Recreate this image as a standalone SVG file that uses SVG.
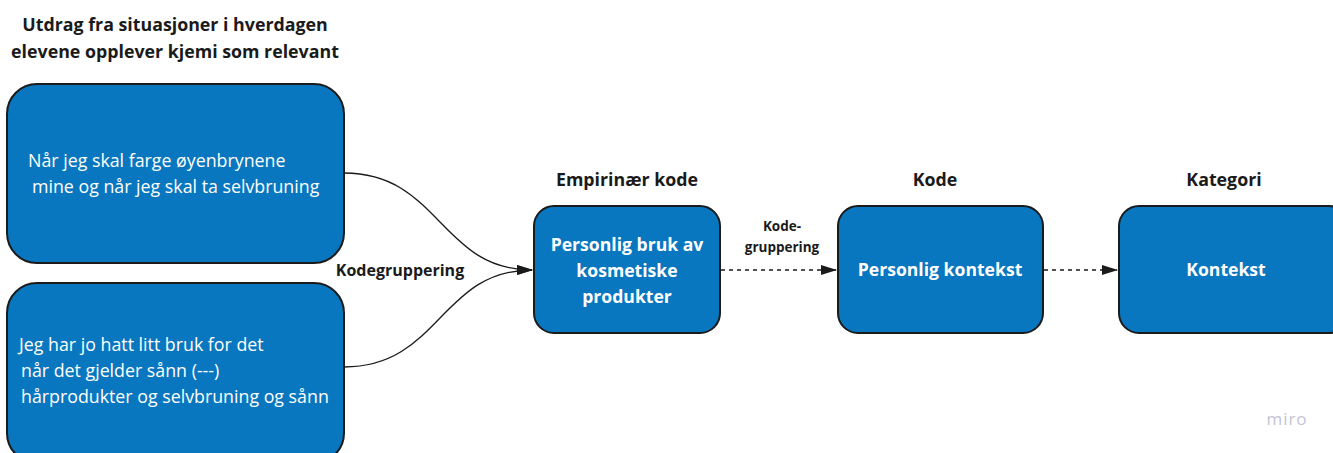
<svg xmlns="http://www.w3.org/2000/svg" width="1333" height="453" viewBox="0 0 1333 453">
<defs>
<style>
.box{fill:#0877bf;stroke:#1b1b1b;stroke-width:2}
.hd{font-family:"Open Sans","Liberation Sans",sans-serif;font-weight:bold;font-size:17.8px;fill:#1a1a1a;text-anchor:middle}
.tx{font-family:"Open Sans","Liberation Sans",sans-serif;font-size:17.8px;fill:#ffffff}
.bt{font-family:"Open Sans","Liberation Sans",sans-serif;font-weight:bold;font-size:17.6px;fill:#ffffff;text-anchor:middle}
.lb{font-family:"Open Sans","Liberation Sans",sans-serif;font-weight:bold;font-size:16px;fill:#1a1a1a;text-anchor:middle}
.ln{fill:none;stroke:#1a1a1a;stroke-width:1.3}
.dash{stroke-dasharray:4 4}
</style>
<marker id="ah" markerWidth="16" markerHeight="10" refX="15" refY="5" orient="auto" markerUnits="userSpaceOnUse">
<path d="M0,0 L16,5 L0,10 Z" fill="#1a1a1a"/>
</marker>
</defs>
<rect width="1333" height="453" fill="#ffffff"/>
<g id="header-left">
<text class="hd" x="175" y="31">Utdrag fra situasjoner i hverdagen</text>
<text class="hd" x="175" y="58">elevene opplever kjemi som relevant</text>
</g>
<g id="connectors">
<path class="ln" d="M344,173 C440,173 440,270 532,270" marker-end="url(#ah)"/>
<path class="ln" d="M344,367 C440,367 440,270 532,270" marker-end="url(#ah)"/>
<path class="ln dash" d="M721,270 L836,270" marker-end="url(#ah)"/>
<path class="ln dash" d="M1044,270 L1117,270" marker-end="url(#ah)"/>
<text class="lb" x="400" y="276">Kodegruppering</text>
<text class="lb" x="782" y="231" style="font-size:13.5px">Kode-</text>
<text class="lb" x="782" y="252" style="font-size:13.5px">gruppering</text>
</g>
<g id="node-quote1">
<rect class="box" x="7" y="84" width="337" height="179" rx="30"/>
<text class="tx" x="28" y="167">Når jeg skal farge øyenbrynene</text>
<text class="tx" x="32" y="193">mine og når jeg skal ta selvbruning</text>
</g>
<g id="node-quote2">
<rect class="box" x="7" y="283" width="337" height="180" rx="30"/>
<text class="tx" x="19" y="351">Jeg har jo hatt litt bruk for det</text>
<text class="tx" x="21" y="377">når det gjelder sånn (---)</text>
<text class="tx" x="21" y="403">hårprodukter og selvbruning og sånn</text>
</g>
<g id="node-empirical">
<text class="hd" x="627" y="186">Empirinær kode</text>
<rect class="box" x="534" y="206" width="186" height="127" rx="20"/>
<text class="bt" x="627" y="251">Personlig bruk av</text>
<text class="bt" x="627" y="277">kosmetiske</text>
<text class="bt" x="627" y="303">produkter</text>
</g>
<g id="node-code">
<text class="hd" x="935" y="186">Kode</text>
<rect class="box" x="838" y="206" width="205" height="127" rx="20"/>
<text class="bt" x="940" y="276">Personlig kontekst</text>
</g>
<g id="node-category">
<text class="hd" x="1224" y="186">Kategori</text>
<rect class="box" x="1119" y="206" width="230" height="127" rx="20"/>
<text class="bt" x="1226" y="276">Kontekst</text>
</g>
<text x="1287" y="425" style="font-family:'Open Sans','Liberation Sans',sans-serif;font-size:17px;fill:#c4c4d4;text-anchor:middle;letter-spacing:1px">miro</text>
</svg>
